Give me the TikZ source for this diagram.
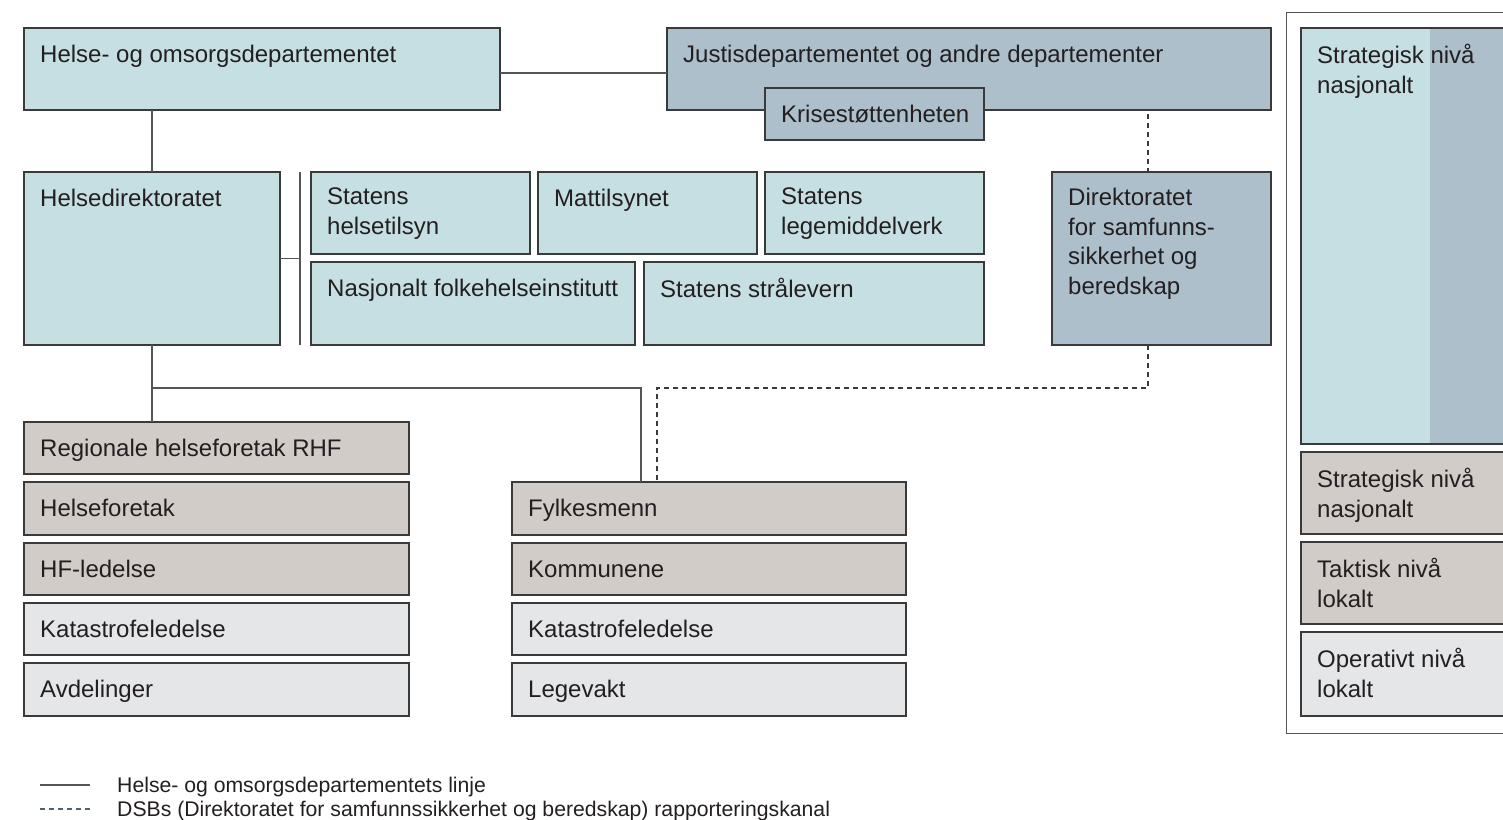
\documentclass[tikz,border=0pt]{standalone}
\usepackage{fontspec}
\setmainfont{Liberation Sans}
\definecolor{cteal}{HTML}{C6DFE2}
\definecolor{cblue}{HTML}{ADBFCB}
\definecolor{ctan}{HTML}{D1CCC8}
\definecolor{cgray}{HTML}{E5E6E8}
\definecolor{cline}{HTML}{3A3A3A}
\definecolor{cconn}{HTML}{555555}
\definecolor{cdash}{HTML}{4F6272}
\definecolor{ctext}{HTML}{231F20}
\tikzset{
 box/.style={draw=cline, line width=1.1pt, anchor=north west, inner sep=0pt, outer sep=0pt},
 lbl/.style={anchor=north west, inner sep=0pt, text=ctext, font=\fontsize{24}{29.5}\selectfont, align=left,
   execute at begin node={\rule{0pt}{18pt}}},
 conn/.style={draw=cconn, line width=1.1pt},
 dconn/.style={draw=cline, line width=1.1pt, dash pattern=on 5pt off 4pt},
 legtext/.style={anchor=base west, inner sep=0pt, text=ctext, font=\fontsize{21.2}{24}\selectfont},
}
\newcommand{\obox}[7]{%
 \node[box, fill=#6, minimum width=#4pt, minimum height=#5pt] (#1) at (#2,#3) {};
 \node[lbl] (#1-t) at ([xshift=16pt,yshift=-16pt]#1.north west) {#7};}
\begin{document}
\begin{tikzpicture}[x=1pt,y=-1pt]
\useasboundingbox (0,0) rectangle (1503,819);
% top level
\obox{hod}{24}{28}{476}{82}{cteal}{Helse- og omsorgsdepartementet}
\obox{jus}{667}{28}{604}{82}{cblue}{Justisdepartementet og andre departementer}
\node[box, fill=cblue, minimum width=219pt, minimum height=52pt] (kris) at (765,88) {};
\node[lbl, anchor=west, execute at begin node={}] (kris-t) at ([xshift=16pt]kris.west) {Krisestøttenheten};
% second level
\obox{hdir}{24}{172}{256}{173}{cteal}{Helsedirektoratet}
\obox{tilsyn}{311}{172}{219}{82}{cteal}{Statens\\helsetilsyn}
\obox{matt}{538}{172}{219}{82}{cteal}{Mattilsynet}
\obox{lmv}{765}{172}{219}{82}{cteal}{Statens\\legemiddelverk}
\obox{fhi}{311}{262}{324}{83}{cteal}{Nasjonalt folkehelseinstitutt}
\obox{stral}{644}{262}{340}{83}{cteal}{Statens strålevern}
\obox{dsb}{1052}{172}{219}{173}{cblue}{Direktoratet\\for samfunns-\\sikkerhet og\\beredskap}
% third level left
\obox{rhf}{24}{422}{385}{52}{ctan}{Regionale helseforetak RHF}
\obox{hf}{24}{482}{385}{53}{ctan}{Helseforetak}
\obox{hfl}{24}{543}{385}{52}{ctan}{HF-ledelse}
\obox{kat1}{24}{603}{385}{52}{cgray}{Katastrofeledelse}
\obox{avd}{24}{663}{385}{53}{cgray}{Avdelinger}
% third level right
\obox{fyl}{512}{482}{394}{53}{ctan}{Fylkesmenn}
\obox{komm}{512}{543}{394}{52}{ctan}{Kommunene}
\obox{kat2}{512}{603}{394}{52}{cgray}{Katastrofeledelse}
\obox{lege}{512}{663}{394}{53}{cgray}{Legevakt}
% right panel
\draw[draw=cconn, line width=1pt] (1286,12) rectangle (1530,733);
\fill[cteal] (1301,28) rectangle (1430,444);
\fill[cblue] (1430,28) rectangle (1525,444);
\node[box, minimum width=224pt, minimum height=416pt] (sn1) at (1301,28) {};
\node[lbl] (sn1-t) at ([xshift=16pt,yshift=-16pt]sn1.north west) {Strategisk nivå\\nasjonalt};
\obox{sn2}{1301}{452}{224}{82}{ctan}{Strategisk nivå\\nasjonalt}
\obox{tn}{1301}{542}{224}{82}{ctan}{Taktisk nivå\\lokalt}
\obox{on}{1301}{632}{224}{84}{cgray}{Operativt nivå\\lokalt}
% connectors
\coordinate (barT) at (300,172);
\coordinate (barB) at (300,345);
\coordinate (hy) at (0,73);
\coordinate (dx) at (1148,0);
\coordinate (sbend) at (153,388);
\coordinate (sx) at (641,388);
\coordinate (dbend) at (1148,388);
\coordinate (fx) at (657,388);
\draw[conn] (hod.east |- hy) -- (jus.west |- hy);
\draw[conn] (hdir.north |- hod.south) -- (hdir.north);
\draw[conn] (barT) -- (barB);
\draw[conn] (hdir.east) -- (hdir.east -| barT);
\draw[conn] (hdir.south) -- (hdir.south |- rhf.north);
\draw[conn] (sbend) -- (sx) -- (fyl.north -| sx);
\draw[dconn] (jus.south -| dx) ++(0,4) -- (dsb.north -| dx);
\draw[dconn] (dsb.south -| dx) -- (dbend) -- (fx) -- (fyl.north -| fx);
% legend
\coordinate (l1a) at (40,785);
\coordinate (l1b) at (90,785);
\coordinate (l2a) at (40,809);
\coordinate (l2b) at (90,809);
\draw[conn] (l1a) -- (l1b);
\draw[draw=cdash, line width=1.1pt, dash pattern=on 5pt off 4pt] (l2a) -- (l2b);
\node[legtext] (lt1) at (117,792) {Helse- og omsorgsdepartementets linje};
\node[legtext] (lt2) at (117,816) {DSBs (Direktoratet for samfunnssikkerhet og beredskap) rapporteringskanal};
\end{tikzpicture}
\end{document}
